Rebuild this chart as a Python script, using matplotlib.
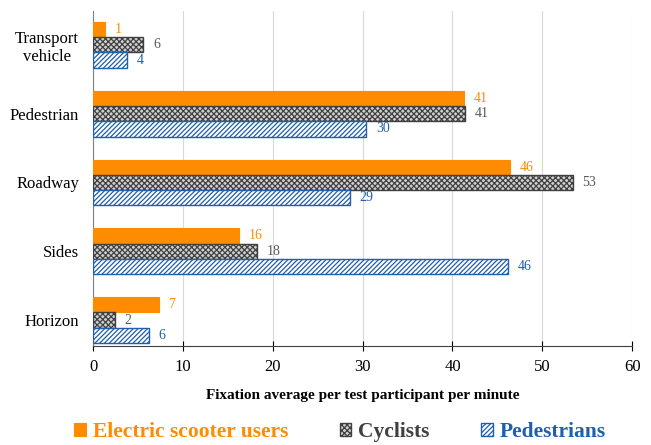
import matplotlib.pyplot as plt
import numpy as np

categories = ['Horizon', 'Sides', 'Roadway', 'Pedestrian', 'Transport\nvehicle']
scooter = [7.3, 16.2, 46.4, 41.3, 1.3]
cyclists = [2.4, 18.3, 53.4, 41.4, 5.6]
pedestrians = [6.2, 46.2, 28.6, 30.4, 3.8]
series_names = ['Electric scooter users', 'Cyclists', 'Pedestrians']

orange = '#FF8C00'
grey = '#404040'
grey_txt = '#595959'
blue = '#1F5FAD'

plt.rcParams['font.family'] = ['Liberation Serif', 'DejaVu Serif']
plt.rcParams['hatch.linewidth'] = 0.9

fig, ax = plt.subplots(figsize=(6.51, 4.45), dpi=100)
fig.subplots_adjust(left=0.143, right=0.971, top=0.975, bottom=0.222)

y = np.arange(len(categories))
h = 0.222

b1 = ax.barh(y + h, scooter, h, color=orange, edgecolor=orange, linewidth=0.8,
             label=series_names[0], zorder=3)
b2 = ax.barh(y, cyclists, h, color='#d0d0d0', edgecolor=grey, hatch='xxxxxx',
             linewidth=1.0, label=series_names[1], zorder=3)
b3 = ax.barh(y - h, pedestrians, h, color='white', edgecolor=blue, hatch='///////',
             linewidth=1.0, label=series_names[2], zorder=3)

# value labels
for bars, vals, col in [(b1, scooter, orange), (b2, cyclists, grey_txt), (b3, pedestrians, blue)]:
    for bar, v in zip(bars, vals):
        ax.annotate('%d' % round(v), (v, bar.get_y() + bar.get_height() / 2),
                    xytext=(7, 0), textcoords='offset points', va='center', ha='left',
                    fontsize=10, color=col)

ax.set_xlim(0, 60)
ax.set_ylim(-0.38, 4.49)
ax.set_xticks(range(0, 61, 10))
ax.set_yticks(y)
ax.set_yticklabels(categories, fontsize=12, multialignment='center')
ax.tick_params(axis='y', length=0, pad=10)
ax.tick_params(axis='x', direction='inout', length=7, labelsize=12, pad=6)
ax.grid(axis='x', color='#d9d9d9', linewidth=0.8, zorder=0)
for s in ['top', 'right']:
    ax.spines[s].set_visible(False)
ax.spines['left'].set_color('#808080')
ax.spines['bottom'].set_color('#404040')
ax.set_xlabel('Fixation average per test participant per minute', fontsize=11,
              fontweight='bold', labelpad=10)

leg = fig.legend(handles=[b1, b2, b3], loc='center', bbox_to_anchor=(0.522, 0.03), ncol=3,
                 frameon=False, handlelength=0.55, handleheight=0.55, handletextpad=0.3,
                 columnspacing=2.4, labelcolor=[orange, grey, blue],
                 prop={'weight': 'bold', 'size': 15.5})

fig.savefig('out.png', dpi=100)
